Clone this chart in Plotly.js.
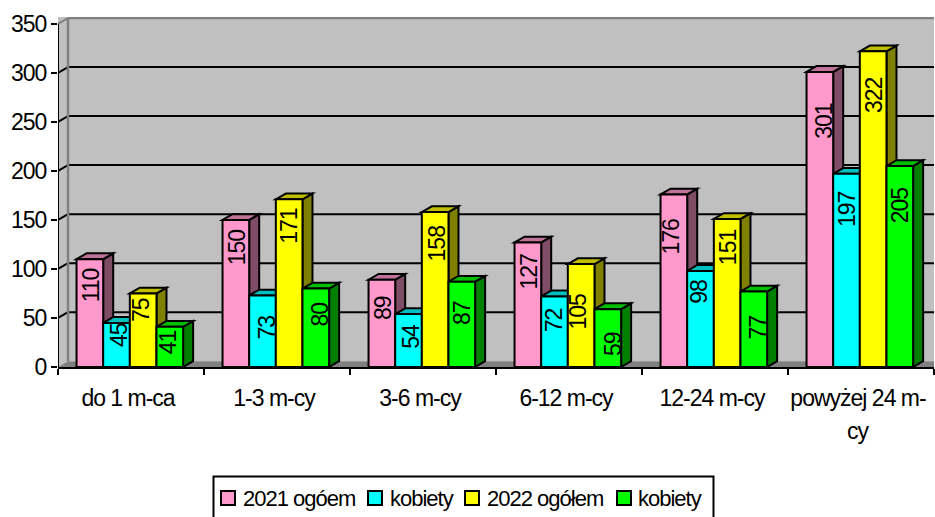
<!DOCTYPE html>
<html><head><meta charset="utf-8">
<script src="https://cdn.plot.ly/plotly-3.0.1.min.js"></script>
<style>html,body{margin:0;padding:0;background:#fff} svg text{letter-spacing:-1px}</style></head>
<body><div id="c" style="width:935px;height:517px"></div>
<script>
const categories = ['do 1 m-ca','1-3 m-cy','3-6 m-cy','6-12 m-cy','12-24 m-cy','powyżej 24 m-cy'];
const tickLabels = ['do 1 m-ca','1-3 m-cy','3-6 m-cy','6-12 m-cy','12-24 m-cy','powyżej 24 m-'];
const names = ['2021 ogóem','kobiety','2022 ogółem','kobiety'];
const v2021 = [110,150,89,127,176,301];
const k2021 = [45,73,54,72,98,197];
const v2022 = [75,171,158,105,151,322];
const k2022 = [41,80,87,59,77,205];
const series = [v2021,k2021,v2022,k2022];
const fronts = ['#FF99CC','#00FFFF','#FFFF00','#00FF00'];
const tops = ['#BF7399','#00BFBF','#BFBF00','#00BF00'];
const sides = ['#804D66','#008080','#808000','#008000'];
const ticks = [0,50,100,150,200,250,300,350];
// where each data label sits: height on the value axis, horizontal nudge in px from bar centre
const labelAt = [
  [83.2,122,60,97.2,133,251],
  [32.1,39.8,31.3,47.2,76.2,160.7],
  [58.2,144.2,126.2,56.8,122.4,277.6],
  [25,53.4,54.8,23.2,40.1,164.8]];
const labelNudge = [
  [2,2,1,1,-3,4],
  [2,4,3,-1,-1,1],
  [-2,-1,2,-3,1,1],
  [-1,4,0,5,4,1]];

const FONT='"Liberation Sans", Arial, sans-serif', FS=23;
const W=876, H=350, YMAX=357;
const dx = 10/W*6, dy = 5.8/H*YMAX;     // depth offset in axis units
const gap = 0.27, bw = (1-gap)/4, shift=-0.008;
const shapes = [];
const poly = (pts,fill,lc,lw)=>shapes.push({type:'path',xref:'x',yref:'y',layer:'below',
  path:'M'+pts.map(p=>p[0]+','+p[1]).join('L')+'Z',fillcolor:fill,line:{color:lc||fill,width:lw===undefined?1:lw}});
const seg=(x0,y0,x1,y1,c,w)=>shapes.push({type:'line',xref:'x',yref:'y',layer:'below',x0,x1,y0,y1,line:{color:c,width:w}});
const L=-0.5,R=5.5;
// walls
poly([[L,0],[L+dx,dy],[L+dx,YMAX],[L,YMAX]],'#C0C0C0','#C0C0C0',0);
poly([[L+dx,dy],[R,dy],[R,350+dy],[L+dx,350+dy]],'#C0C0C0','#C0C0C0',0);
poly([[L,0],[L+dx,dy],[R,dy],[R,0]],'#808080','#808080',0);
// gridlines
ticks.slice(1,-1).forEach(t=>{
  seg(L+dx,t+dy,R,t+dy,'#000',2);
  seg(L,t,L+dx,t+dy,'#000',2);
});
// wall edges
seg(L+dx,dy,L+dx,350+dy,'#808080',2.5);
seg(L+dx,350+dy,R,350+dy,'#808080',2.5);
seg(L,350,L+dx,350+dy,'#808080',2);
seg(L,0,L,350,'#000',2);
const annotations = [];
// 3D faces of bars, left to right
categories.forEach((c,i)=>{
  series.forEach((s,k)=>{
    const x0=i-2*bw+k*bw+shift, x1=x0+bw, v=s[i];
    poly([[x1,0],[x1+dx,dy],[x1+dx,v+dy],[x1,v]],sides[k],'#000',2);
    poly([[x0,v],[x0+dx,v+dy],[x1+dx,v+dy],[x1,v]],tops[k],'#000',2);
    annotations.push({xref:'x',yref:'y',x:(x0+x1)/2,xshift:labelNudge[k][i],y:labelAt[k][i],
      xanchor:'center',yanchor:'middle',textangle:-90,text:String(v),showarrow:false,
      font:{family:FONT,size:FS,color:'#000'}});
  });
});
const traces = series.map((s,k)=>({type:'bar',x:categories,y:s,name:names[k],
  width:bw,offset:-2*bw+k*bw+shift,
  marker:{color:fronts[k],line:{color:'#000',width:2}},hoverinfo:'none'}));
// legend built from the series names and colours
const px=(p)=>(p-58)/W, py=(p)=>(367-p)/H;
const legX=[221,368,465,617], txtX=[241,388,485,636];
shapes.push({type:'rect',xref:'paper',yref:'paper',x0:px(213.5),x1:px(713.5),y0:py(476.5),y1:py(530),fillcolor:'#fff',line:{color:'#000',width:2}});
names.forEach((n,k)=>{
  shapes.push({type:'rect',xref:'paper',yref:'paper',x0:px(legX[k]),x1:px(legX[k]+14),y0:py(491),y1:py(505),fillcolor:fronts[k],line:{color:'#000',width:2}});
  annotations.push({xref:'paper',yref:'paper',x:px(txtX[k]),y:py(498),xanchor:'left',yanchor:'middle',text:n,showarrow:false,font:{family:FONT,size:22,color:'#000'}});
});
annotations.push({xref:'paper',yref:'paper',x:px(858),y:py(431),xanchor:'center',yanchor:'middle',text:'cy',showarrow:false,font:{family:FONT,size:FS,color:'#000'}});
Plotly.newPlot('c',traces,{
  width:935,height:517,margin:{l:58,r:1,t:17,b:150,pad:0},
  paper_bgcolor:'#fff',plot_bgcolor:'#fff',
  font:{family:FONT,size:FS,color:'#000'},
  barmode:'overlay',shapes:shapes,annotations:annotations,showlegend:false,
  xaxis:{type:'category',range:[L,R],tickson:'boundaries',tickmode:'array',tickvals:categories,ticktext:tickLabels,
    ticks:'outside',ticklen:6,tickwidth:2,tickcolor:'#000',ticklabelstandoff:9,ticklabelshift:-3,
    showgrid:false,zeroline:false,showline:true,linecolor:'#000',linewidth:2,tickangle:0,automargin:false,
    tickfont:{family:FONT,size:FS}},
  yaxis:{range:[0,YMAX],tickvals:ticks,ticktext:ticks.map(String),ticks:'outside',ticklen:6,tickwidth:2,tickcolor:'#000',
    showgrid:false,zeroline:false,showline:false,automargin:false,tickfont:{family:FONT,size:FS}}
},{displayModeBar:false,staticPlot:true});
</script></body></html>
